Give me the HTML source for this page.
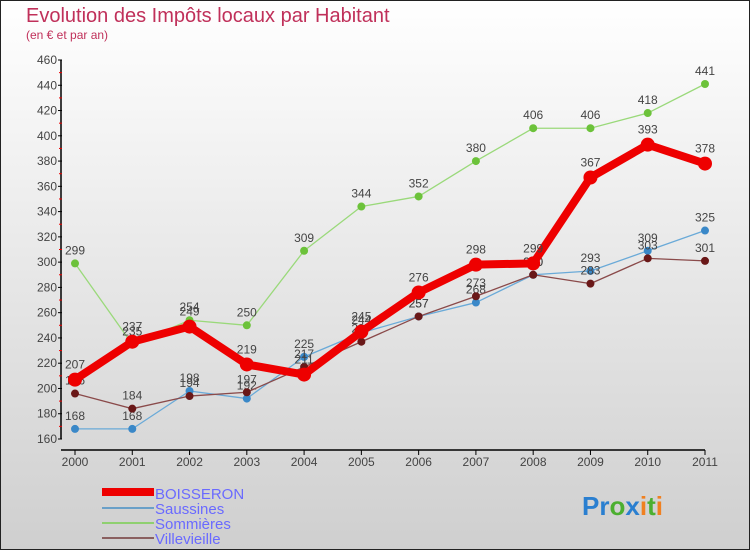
<!DOCTYPE html>
<html><head><meta charset="utf-8"><style>
body{margin:0;width:750px;height:550px;overflow:hidden;font-family:"Liberation Sans",sans-serif}
svg text{font-family:"Liberation Sans",sans-serif}
</style></head><body>
<svg id="c" width="750" height="550" xmlns="http://www.w3.org/2000/svg">
<defs><linearGradient id="bg" x1="0" y1="0" x2="0" y2="1"><stop offset="0" stop-color="#ffffff"/><stop offset="1" stop-color="#cfcfcf"/></linearGradient></defs>
<rect x="0.5" y="0.5" width="749" height="549" fill="url(#bg)" stroke="#222"/>
<text x="26" y="22" font-size="20" fill="#c0305a">Evolution des Impôts locaux par Habitant</text>
<text x="26" y="39" font-size="12" fill="#c0305a">(en € et par an)</text>
<g id="axes"></g><g id="series"></g>
<g>
<rect x="102" y="488" width="52" height="8" fill="#e00"/>
<text x="155" y="499" font-size="15" fill="#6a6aff">BOISSERON</text>
<line x1="102" y1="508" x2="154" y2="508" stroke="#6aa0c8" stroke-width="2"/>
<text x="155" y="514" font-size="15" fill="#6a6aff">Saussines</text>
<line x1="102" y1="523" x2="154" y2="523" stroke="#8fd070" stroke-width="2"/>
<text x="155" y="529" font-size="15" fill="#6a6aff">Sommières</text>
<line x1="102" y1="538" x2="154" y2="538" stroke="#8a6060" stroke-width="2"/>
<text x="155" y="544" font-size="15" fill="#6a6aff">Villevieille</text>
</g>
<text x="582" y="515" font-size="26" font-weight="bold"><tspan fill="#2a7fd0">Pr</tspan><tspan fill="#4caf30">o</tspan><tspan fill="#2a7fd0">x</tspan><tspan fill="#f08020">i</tspan><tspan fill="#4caf30">t</tspan><tspan fill="#f08020">i</tspan></text>
</svg>
<script>
const years=[2000,2001,2002,2003,2004,2005,2006,2007,2008,2009,2010,2011];
const yTicks=[160,180,200,220,240,260,280,300,320,340,360,380,400,420,440,460];
const boisseron=[207,237,249,219,211,245,276,298,299,367,393,378];
const saussines=[168,168,198,192,225,244,257,268,290,293,309,325];
const sommieres=[299,235,254,250,309,344,352,380,406,406,418,441];
const villevieille=[196,184,194,197,217,237,257,273,290,283,303,301];
const NS="http://www.w3.org/2000/svg";
const X=i=>75+i*(630/(years.length-1));
const Y=v=>439-(v-160)*(379/300);
function mk(tag,attrs,parent){const e=document.createElementNS(NS,tag);for(const k in attrs)e.setAttribute(k,attrs[k]);parent.appendChild(e);return e;}
const ax=document.getElementById('axes');
let l=mk('line',{x1:61,y1:Y(460),x2:61,y2:Y(160),stroke:'#000','stroke-width':1.5},ax);


l=mk('line',{x1:61,y1:450,x2:X(11),y2:450,stroke:'#000','stroke-width':1.5},ax);


yTicks.forEach((v,i)=>{
 mk('line',{x1:58,y1:Y(v),x2:62,y2:Y(v),stroke:'#000'},ax);
 if(i<yTicks.length-1)mk('line',{x1:59,y1:Y(v+10),x2:62,y2:Y(v+10),stroke:'#e00'},ax);
 const t=mk('text',{x:57,y:Y(v)+4,'font-size':12,fill:'#444','text-anchor':'end'},ax);t.textContent=v;
 
 
});
years.forEach((y,i)=>{
 mk('line',{x1:X(i),y1:450,x2:X(i),y2:455,stroke:'#000'},ax);
 const t=mk('text',{x:X(i),y:466,'font-size':12,fill:'#444','text-anchor':'middle'},ax);t.textContent=y;
 
 
});
const sg=document.getElementById('series');
function draw(data,name,color,w,r,dot){
 const g=mk('g',{},sg);
 
 
 const p=mk('polyline',{points:data.map((v,i)=>X(i)+','+Y(v)).join(' '),fill:'none',stroke:color,'stroke-width':w,'stroke-linejoin':'round'},g);
 
 
 data.forEach((v,i)=>{
  const c=mk('circle',{cx:X(i),cy:Y(v),r:r,fill:dot},g);
  
  
  const t=mk('text',{x:X(i),y:Y(v)-9-(r>5?2:0),'font-size':12,fill:'#444','text-anchor':'middle'},g);t.textContent=v;
  
  
 });
}
draw(sommieres,'sommieres','#9ad97a',1.3,4,'#6cc23a');
draw(saussines,'saussines','#6aaad8',1.3,4,'#3a88c8');
draw(villevieille,'villevieille','#8a4a4a',1.3,4,'#6a1818');
draw(boisseron,'boisseron','#ee0000',8,7,'#ee0000');
</script>
</body></html>
